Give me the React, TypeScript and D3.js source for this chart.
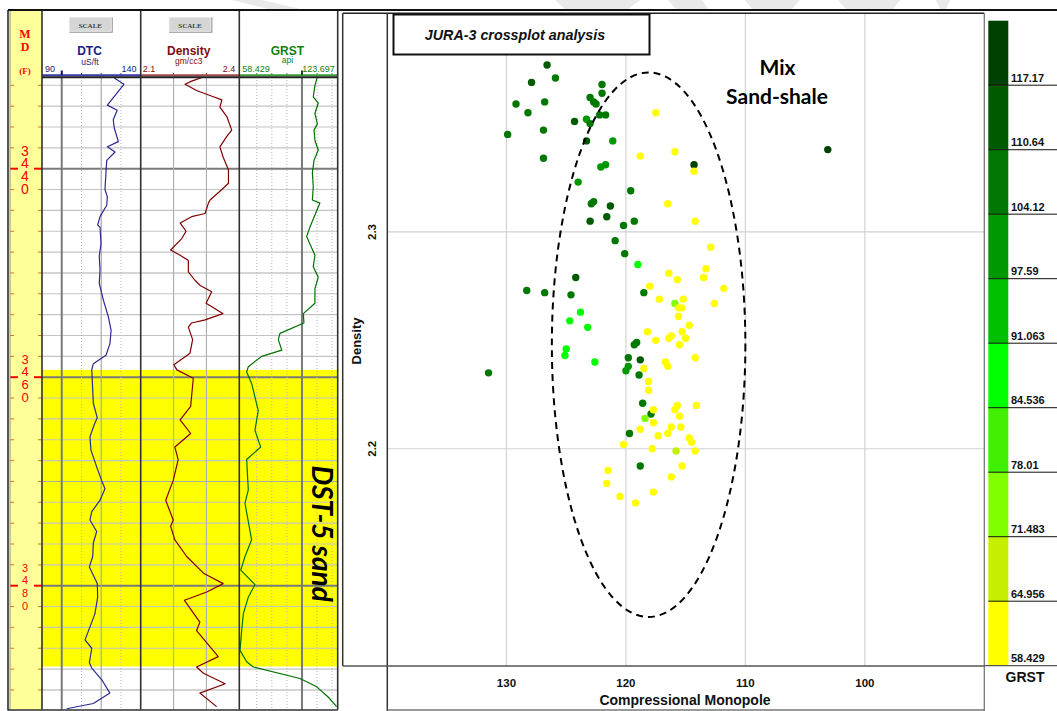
import React, { useEffect } from 'react';
import * as d3 from 'd3';

// well log curves: [depth ft, value]
const dtcLog: [number, number][] = [
  [3431.3, 126.6], [3431.9, 131.5], [3433.9, 123.1], [3434.4, 128.1], [3435.3, 126.1], [3436.1, 126.6],
  [3437.4, 128.7], [3437.9, 123.1], [3438.4, 127.0], [3439.2, 122.8], [3440.4, 122.4], [3442.0, 121.9],
  [3442.7, 123.1], [3443.5, 122.8], [3444.6, 119.4], [3445.4, 118.2], [3445.6, 119.4], [3447.2, 119.9],
  [3448.4, 119.0], [3449.7, 119.4], [3451.0, 119.0], [3452.6, 121.1], [3454.2, 123.6], [3455.5, 125.0],
  [3456.8, 124.4], [3457.9, 122.4], [3458.7, 116.0], [3459.3, 115.2], [3461.2, 115.7], [3462.5, 116.0],
  [3463.9, 118.0], [3464.4, 116.8], [3465.7, 114.3], [3467.0, 114.8], [3468.6, 117.7], [3469.9, 120.2],
  [3470.7, 121.9], [3471.8, 119.4], [3472.9, 115.2], [3473.7, 114.3], [3474.8, 117.7], [3475.9, 116.0],
  [3477.2, 115.7], [3478.2, 114.0], [3479.8, 118.0], [3481.1, 118.2], [3482.7, 116.8], [3485.2, 111.8],
  [3486.0, 115.2], [3487.4, 114.0], [3487.9, 115.2], [3489.0, 120.2], [3490.3, 124.4], [3491.3, 116.0],
  [3491.8, 102.5],
];

const densityLog: [number, number][] = [
  [3431.2, 2.291], [3431.6, 2.255], [3431.9, 2.235], [3432.5, 2.27], [3433.1, 2.321], [3433.4, 2.347],
  [3434.1, 2.341], [3435.0, 2.362], [3436.3, 2.377], [3436.9, 2.362], [3437.9, 2.341], [3438.9, 2.351],
  [3440.1, 2.367], [3441.4, 2.367], [3442.0, 2.347], [3443.0, 2.311], [3443.3, 2.306], [3444.3, 2.296],
  [3444.6, 2.255], [3445.2, 2.22], [3446.0, 2.238], [3446.7, 2.225], [3447.8, 2.191], [3448.3, 2.22],
  [3448.8, 2.245], [3449.9, 2.245], [3450.7, 2.265], [3451.2, 2.281], [3451.8, 2.316], [3452.9, 2.299],
  [3453.9, 2.35], [3454.5, 2.296], [3454.8, 2.255], [3455.2, 2.245], [3456.4, 2.258], [3457.7, 2.25],
  [3458.8, 2.201], [3459.3, 2.21], [3460.1, 2.26], [3462.8, 2.252], [3464.1, 2.22], [3465.4, 2.252],
  [3466.0, 2.23], [3466.7, 2.204], [3467.9, 2.214], [3469.9, 2.199], [3471.8, 2.176], [3473.7, 2.199],
  [3474.3, 2.191], [3475.6, 2.204], [3477.2, 2.24], [3478.8, 2.291], [3479.8, 2.351], [3480.6, 2.301],
  [3481.4, 2.233], [3483.5, 2.28], [3484.3, 2.27], [3486.8, 2.336], [3487.8, 2.27], [3488.4, 2.291],
  [3489.4, 2.357], [3490.3, 2.28], [3491.6, 2.331],
];

const grstLog: [number, number][] = [
  [3431.2, 110.2], [3432.0, 108.6], [3433.1, 107.5], [3433.7, 110.8], [3434.7, 108.6], [3435.7, 110.2],
  [3436.3, 108.0], [3437.3, 108.6], [3438.2, 110.8], [3439.2, 108.0], [3440.4, 106.9], [3441.7, 107.5],
  [3443.0, 106.9], [3443.3, 111.9], [3445.6, 105.3], [3446.5, 103.1], [3448.3, 108.6], [3449.4, 107.5],
  [3450.4, 110.8], [3451.5, 108.6], [3452.9, 108.6], [3453.9, 100.9], [3454.8, 101.3], [3455.8, 85.4],
  [3456.4, 84.3], [3457.4, 86.6], [3458.0, 73.3], [3459.0, 64.4], [3459.5, 63.3], [3460.6, 66.6],
  [3463.2, 71.0], [3465.1, 68.8], [3466.7, 72.6], [3467.9, 63.3], [3470.8, 64.4], [3472.1, 62.2],
  [3475.6, 66.6], [3477.2, 62.2], [3478.5, 59.4], [3479.9, 68.8], [3481.1, 64.4], [3482.7, 61.1],
  [3484.3, 60.0], [3486.2, 58.9], [3487.3, 63.3], [3487.8, 67.7], [3488.9, 98.7], [3489.7, 109.8],
  [3490.7, 117.5], [3491.6, 123.0],
];

const sandTop = 3459.3;
const sandBase = 3487.75;
const depthLabels = [3440, 3460, 3480];
const dtcRange = [90, 140];
const densityRange = [2.1, 2.4];
const grstRange = [58.429, 123.697];

// crossplot samples: [compressional monopole, density, GRST]
const shalePoints: [number, number, number][] = [
  [126.6, 2.377, 113], [127.9, 2.369, 112], [125.9, 2.371, 106], [129.2, 2.359, 106], [126.8, 2.36, 106],
  [128.2, 2.355, 109], [129.9, 2.345, 106], [126.9, 2.347, 106], [126.9, 2.334, 106], [122.0, 2.368, 107],
  [122.0, 2.364, 107], [123.0, 2.362, 106], [122.7, 2.36, 106], [122.5, 2.359, 106], [124.3, 2.351, 113],
  [123.3, 2.352, 101], [123.0, 2.35, 105], [122.2, 2.354, 107], [121.7, 2.354, 107], [123.3, 2.342, 115],
  [121.1, 2.342, 99], [122.1, 2.33, 103], [121.7, 2.331, 103], [124.0, 2.323, 98], [122.9, 2.313, 105],
  [122.7, 2.314, 105], [121.3, 2.312, 112], [121.6, 2.307, 112], [123.0, 2.305, 112], [120.2, 2.303, 110],
  [119.3, 2.305, 106], [119.6, 2.319, 107], [120.9, 2.296, 106], [120.1, 2.29, 108], [119.0, 2.285, 90],
  [118.5, 2.272, 108], [124.2, 2.279, 113], [128.3, 2.273, 106], [126.8, 2.272, 106], [124.6, 2.271, 106],
  [123.8, 2.263, 87], [124.7, 2.259, 87], [123.2, 2.256, 87], [125.0, 2.246, 86], [125.1, 2.243, 86],
  [122.6, 2.24, 87], [119.3, 2.248, 110], [119.1, 2.249, 110], [119.8, 2.242, 107], [118.8, 2.241, 112],
  [119.8, 2.238, 104], [120.0, 2.236, 104], [118.9, 2.234, 108], [131.5, 2.235, 106], [118.6, 2.221, 107],
  [117.9, 2.216, 110], [119.7, 2.207, 107], [118.8, 2.192, 107], [103.1, 2.338, 120], [114.3, 2.331, 120],
];

const sandPoints: [number, number, number][] = [
  [117.5, 2.355, 62], [118.8, 2.335, 61], [115.9, 2.337, 62], [114.3, 2.328, 62], [116.5, 2.313, 61],
  [114.2, 2.305, 62], [112.9, 2.293, 61], [113.3, 2.283, 62], [116.4, 2.281, 62], [115.7, 2.278, 61],
  [113.5, 2.279, 62], [118.0, 2.275, 61], [111.8, 2.274, 62], [117.2, 2.269, 62], [115.2, 2.269, 61],
  [115.9, 2.267, 73], [115.6, 2.265, 62], [115.3, 2.265, 61], [112.6, 2.267, 62], [115.6, 2.261, 62],
  [114.7, 2.257, 61], [118.2, 2.254, 62], [115.3, 2.254, 61], [117.5, 2.25, 62], [116.2, 2.252, 62],
  [116.4, 2.251, 61], [115.0, 2.251, 62], [115.5, 2.248, 62], [114.2, 2.242, 61], [116.7, 2.24, 62],
  [116.5, 2.238, 62], [118.5, 2.237, 61], [118.1, 2.231, 62], [118.1, 2.227, 62], [115.7, 2.22, 61],
  [115.9, 2.218, 62], [115.5, 2.215, 62], [114.1, 2.22, 61], [117.7, 2.218, 62], [118.4, 2.214, 76],
  [117.7, 2.212, 62], [118.8, 2.209, 61], [116.2, 2.21, 62], [116.5, 2.207, 62], [115.4, 2.21, 61],
  [117.3, 2.206, 62], [114.7, 2.205, 62], [114.5, 2.203, 61], [120.2, 2.202, 62], [117.8, 2.2, 62],
  [115.8, 2.199, 68], [114.2, 2.199, 61], [115.3, 2.192, 62], [121.5, 2.19, 62], [121.6, 2.184, 61],
  [116.2, 2.187, 62], [117.7, 2.18, 62], [120.5, 2.178, 61], [119.2, 2.175, 62],
];

const grBreaks = [58.429, 64.956, 71.483, 78.01, 84.536, 91.063, 97.59, 104.12, 110.64, 117.17];
const grColors = ['#ffff00', '#c4f000', '#80ff00', '#40f000', '#00ff00', '#00c000', '#009800', '#007800', '#005a00', '#004000'];
const xTicks = [130, 120, 110, 100];
const yTicks = [2.2, 2.3];
const ellipseCenter = [118.1, 2.248];
const ellipseRadius = [8.1, 0.1256];

const sans = '"Liberation Sans", Arial, sans-serif';

const App = () => {
  useEffect(() => {
    document.body.style.margin = '0';
  }, []);

  // log panel scales
  const depthY = d3.scaleLinear().domain([3440, 3480]).range([168.7, 585.7]);
  const dtcX = d3.scaleLinear().domain(dtcRange).range([42, 140.7]);
  const denX = d3.scaleLinear().domain(densityRange).range([140.7, 239.3]);
  const grX = d3.scaleLinear().domain(grstRange).range([239.3, 337.7]);
  const bodyTop = 77;
  const bodyBottom = 709.5;

  const curve = (xs: d3.ScaleLinear<number, number>) =>
    d3.line<[number, number]>().x(d => xs(d[1])).y(d => depthY(d[0]));

  // crossplot scales
  const x = d3.scaleLinear().domain([140, 90]).range([387, 984.3]);
  const y = d3.scaleLinear().domain([2.1, 2.4]).range([665.5, 15.2]);
  const color = d3.scaleThreshold<number, string>().domain(grBreaks.slice(1)).range(grColors);
  const barY = d3.scaleLinear().domain([grBreaks[0], 123.697]).range([665.7, 20.7]);

  const minorDepths = d3.range(3432, 3492, 2);
  const tracks = [42, 140.7, 239.3, 337.7];

  const dtcGrid = [
    { v: 100, stroke: '#7a7a7a', w: 2, dash: null },
    { v: 110, stroke: '#b8b8b8', w: 1, dash: '1,2' },
    { v: 120, stroke: '#a8a8a8', w: 1.2, dash: null },
    { v: 130, stroke: '#b8b8b8', w: 1, dash: '1,2' },
  ];
  const denGrid = [2.2, 2.3];
  const grGrid = [
    { v: 70, thick: false }, { v: 80, thick: false }, { v: 90, thick: false },
    { v: 100, thick: true }, { v: 110, thick: false }, { v: 120, thick: false },
  ];

  const digitOffsets = [-18, -5.5, 7.5, 20];
  const digitSizes = [14, 13, 11];

  return (
    <svg width={1057} height={711} style={{ position: 'absolute', left: 0, top: 0, background: '#fff' }}>
      <defs>
        <clipPath id="logBody">
          <rect x={42} y={bodyTop + 1} width={296} height={bodyBottom - bodyTop - 1} />
        </clipPath>
      </defs>

      {/* faint slide watermark at the top */}
      <g fill="#e9e9e9">
        <polygon points="232,0 262,0 300,9 268,9" />
        <polygon points="555,0 640,0 628,9 565,9" />
        <polygon points="668,0 702,0 708,9 676,9" />
        <polygon points="745,0 800,0 792,9 752,9" />
        <polygon points="838,0 900,0 893,9 846,9" />
        <polygon points="936,0 950,0 946,9 940,9" />
      </g>

      {/* ---------- log panel ---------- */}
      <rect x={10} y={10} width={32} height={bodyBottom - 10} fill="#ffff99" />
      <rect x={42} y={depthY(sandTop)} width={296} height={depthY(sandBase) - depthY(sandTop)} fill="#ffff00" />

      {minorDepths.map(d => (
        <line key={'g' + d} x1={42} x2={338} y1={depthY(d)} y2={depthY(d)}
          stroke={d % 20 === 0 ? '#7a7a7a' : d % 10 === 0 ? '#ababab' : '#c4c4c4'}
          strokeWidth={d % 20 === 0 ? 2 : 1.1} />
      ))}
      {dtcGrid.map(g => (
        <line key={'dg' + g.v} x1={dtcX(g.v)} x2={dtcX(g.v)} y1={bodyTop} y2={bodyBottom}
          stroke={g.stroke} strokeWidth={g.w} strokeDasharray={g.dash || undefined} />
      ))}
      {denGrid.map(v => (
        <line key={'ng' + v} x1={denX(v)} x2={denX(v)} y1={bodyTop} y2={bodyBottom} stroke="#b0b0b0" strokeWidth={1.2} />
      ))}
      {grGrid.map(g => (
        <line key={'rg' + g.v} x1={grX(g.v)} x2={grX(g.v)} y1={bodyTop} y2={bodyBottom}
          stroke={g.thick ? '#7a7a7a' : '#b8b8b8'} strokeWidth={g.thick ? 2 : 1}
          strokeDasharray={g.thick ? undefined : '1,2'} />
      ))}

      {/* depth ticks and labels */}
      {minorDepths.map(d => (
        <g key={'t' + d}>
          <line x1={10} x2={d % 20 === 0 ? 18 : 14} y1={depthY(d)} y2={depthY(d)}
            stroke={d % 20 === 0 ? '#ff0000' : '#d2791e'} strokeWidth={d % 20 === 0 ? 2 : 1} />
          <line x1={d % 20 === 0 ? 34 : 38} x2={42} y1={depthY(d)} y2={depthY(d)}
            stroke={d % 20 === 0 ? '#ff0000' : '#d2791e'} strokeWidth={d % 20 === 0 ? 2 : 1} />
        </g>
      ))}
      {depthLabels.map((d, i) => (
        <g key={'dl' + d} fill="#ff0000" fontFamily={sans} fontSize={digitSizes[i]} textAnchor="middle">
          {String(d).split('').map((c, j) => (
            <text key={j} x={25} y={depthY(d) + digitOffsets[j] + digitSizes[i] * 0.36}>{c}</text>
          ))}
        </g>
      ))}
      <g fill="#ff0000" fontFamily='"Liberation Serif", serif' fontWeight="bold" textAnchor="middle">
        <text x={25} y={37.5} fontSize={12}>M</text>
        <text x={25} y={50.5} fontSize={12}>D</text>
        <text x={25} y={73.5} fontSize={9}>(F)</text>
      </g>

      {/* curves */}
      <g clipPath="url(#logBody)" fill="none" strokeWidth={1.2} strokeLinejoin="round">
        <path d={curve(dtcX)(dtcLog) || ''} stroke="#2a2a90" />
        <path d={curve(denX)(densityLog) || ''} stroke="#800000" />
        <path d={curve(grX)(grstLog) || ''} stroke="#007000" />
      </g>

      {/* DST-5 sand label */}
      <text transform={`translate(311.5,${depthY(3475)}) rotate(90)`} textAnchor="middle"
        fontFamily="Lato, sans-serif" fontWeight="bold" fontStyle="italic" fontSize={28} fill="#000">DST-5 sand</text>

      {/* header */}
      {[{ cx: 91 }, { cx: 190.7 }].map((b, i) => (
        <g key={'sb' + i}>
          <rect x={b.cx - 21.7} y={17.3} width={43.4} height={15.4} fill="#8a8a8a" />
          <rect x={b.cx - 21.7} y={17.3} width={42} height={14} fill="#d6d6d6" stroke="#f4f4f4" strokeWidth={0.8} />
          <text x={b.cx - 0.7} y={27.5} textAnchor="middle" fontSize={7} fontFamily='"Liberation Serif", serif'
            fontWeight="bold" fill="#404040">SCALE</text>
        </g>
      ))}
      <g fontFamily={sans} textAnchor="middle">
        <text x={89.5} y={55} fontSize={12} fontWeight="bold" fill="#1c1c80">DTC</text>
        <text x={90} y={64.5} fontSize={8.5} fill="#1c1c80">uS/ft</text>
        <text x={50} y={72} fontSize={9} fill="#1c1c80">{dtcRange[0]}</text>
        <text x={129} y={72} fontSize={9} fill="#1c1c80">{dtcRange[1]}</text>

        <text x={188.7} y={55} fontSize={12} fontWeight="bold" fill="#7a1010">Density</text>
        <text x={188.7} y={63.5} fontSize={8.5} fill="#7a1010">gm/cc3</text>
        <text x={149} y={72} fontSize={9} fill="#7a1010">{densityRange[0]}</text>
        <text x={229} y={72} fontSize={9} fill="#7a1010">{densityRange[1]}</text>

        <text x={287.3} y={55} fontSize={12} fontWeight="bold" fill="#118011">GRST</text>
        <text x={287.5} y={63} fontSize={8.5} fill="#118011">api</text>
        <text x={256} y={72} fontSize={9} fill="#118011">{grstRange[0]}</text>
        <text x={318.5} y={72} fontSize={9} fill="#118011">{grstRange[1]}</text>
      </g>
      <line x1={42} x2={140.7} y1={75.3} y2={75.3} stroke="#3a3aa8" strokeWidth={2} />
      <line x1={140.7} x2={239.3} y1={75.3} y2={75.3} stroke="#a04848" strokeWidth={2} />
      <line x1={239.3} x2={337.7} y1={75.3} y2={75.3} stroke="#3a9a3a" strokeWidth={2} />
      {dtcGrid.map(g => (
        <line key={'dh' + g.v} x1={dtcX(g.v)} x2={dtcX(g.v)} y1={g.v === 100 ? 70.5 : 73} y2={75}
          stroke={g.v === 100 ? '#101060' : '#3a3aa8'} strokeWidth={g.v === 100 ? 2 : 1} />
      ))}
      {denGrid.map(v => (
        <line key={'nh' + v} x1={denX(v)} x2={denX(v)} y1={73} y2={75} stroke="#a04848" />
      ))}
      {grGrid.map(g => (
        <line key={'rh' + g.v} x1={grX(g.v)} x2={grX(g.v)} y1={g.thick ? 70.5 : 73} y2={75}
          stroke={g.thick ? '#105010' : '#3a9a3a'} strokeWidth={g.thick ? 2 : 1} />
      ))}
      <line x1={42} x2={338} y1={77.3} y2={77.3} stroke="#202020" strokeWidth={2} />
      {tracks.map(t => (
        <line key={'tr' + t} x1={t} x2={t} y1={10} y2={bodyBottom} stroke="#303030" strokeWidth={1.6} />
      ))}
      <line x1={10} x2={10} y1={10} y2={bodyBottom} stroke="#909090" strokeWidth={1} />
      <line x1={8} x2={8} y1={10} y2={bodyBottom + 1} stroke="#202020" strokeWidth={1.5} />
      <line x1={8} x2={338} y1={bodyBottom + 0.5} y2={bodyBottom + 0.5} stroke="#303030" strokeWidth={1.5} />
      <line x1={8} x2={1057} y1={10} y2={10} stroke="#111" strokeWidth={2} />

      {/* ---------- crossplot ---------- */}
      {xTicks.map(t => (
        <line key={'xg' + t} x1={x(t)} x2={x(t)} y1={14} y2={666} stroke="#d2d2d2" strokeWidth={1.2} />
      ))}
      {yTicks.map(t => (
        <line key={'yg' + t} x1={387} x2={984.3} y1={y(t)} y2={y(t)} stroke="#d2d2d2" strokeWidth={1.2} />
      ))}

      <g>
        {shalePoints.concat(sandPoints).map((p, i) => (
          <circle key={'p' + i} cx={x(p[0])} cy={y(p[1])} r={3.7} fill={color(p[2])} />
        ))}
      </g>

      <ellipse cx={x(ellipseCenter[0])} cy={y(ellipseCenter[1])}
        rx={Math.abs(x(ellipseCenter[0] - ellipseRadius[0]) - x(ellipseCenter[0]))}
        ry={Math.abs(y(ellipseCenter[1] + ellipseRadius[1]) - y(ellipseCenter[1]))}
        fill="none" stroke="#000" strokeWidth={2} strokeDasharray="7,5" />

      <g fontFamily="Lato, sans-serif" fontWeight="bold" fontSize={21} textAnchor="middle" fill="#000">
        <text x={777.5} y={74.5}>Mix</text>
        <text x={777} y={103.5}>Sand-shale</text>
      </g>

      {/* frame */}
      <line x1={342.7} x2={984.3} y1={13.2} y2={13.2} stroke="#222" strokeWidth={1.5} />
      <line x1={342.7} x2={342.7} y1={13.2} y2={666} stroke="#333" strokeWidth={1.5} />
      <line x1={387.3} x2={387.3} y1={13.2} y2={711} stroke="#333" strokeWidth={1.5} />
      <line x1={342.7} x2={984.3} y1={666} y2={666} stroke="#555" strokeWidth={1.5} />
      <line x1={984.3} x2={984.3} y1={13.2} y2={711} stroke="#777" strokeWidth={1.3} />
      <line x1={387.3} x2={984.3} y1={710} y2={710} stroke="#777" strokeWidth={1.3} />

      {/* axes text */}
      <g fontFamily={sans} fontWeight="bold" fill="#111">
        {xTicks.map(t => (
          <text key={'xt' + t} x={x(t)} y={687} fontSize={11.5} textAnchor="middle">{t}</text>
        ))}
        <text x={685} y={704.5} fontSize={14} textAnchor="middle">Compressional Monopole</text>
        {yTicks.map(t => (
          <text key={'yt' + t} transform={`translate(376,${y(t)}) rotate(-90)`} fontSize={11.5} textAnchor="middle">{t.toFixed(1)}</text>
        ))}
        <text transform="translate(361,341) rotate(-90)" fontSize={13} textAnchor="middle">Density</text>
      </g>

      {/* title */}
      <rect x={393.5} y={14.5} width={256} height={40} fill="#fff" stroke="#111" strokeWidth={2} />
      <text x={515} y={39.5} textAnchor="middle" fontFamily={sans} fontWeight="bold" fontStyle="italic" fontSize={14.3}
        fill="#111">JURA-3 crossplot analysis</text>

      {/* ---------- colour bar ---------- */}
      {grBreaks.map((b, i) => {
        const top = i === grBreaks.length - 1 ? 123.697 : grBreaks[i + 1];
        return (
          <rect key={'cb' + i} x={988.3} y={barY(top)} width={20} height={barY(b) - barY(top)} fill={grColors[i]} />
        );
      })}
      {grBreaks.map((b, i) => (
        <g key={'cl' + i}>
          {i > 0 && <line x1={988.3} x2={1057} y1={barY(b)} y2={barY(b)} stroke="#111" strokeWidth={1} />}
          {i === 0 && <line x1={984.3} x2={1057} y1={barY(b)} y2={barY(b)} stroke="#555" strokeWidth={1.3} />}
          <text x={1011} y={barY(b) - 3.5} fontFamily={sans} fontWeight="bold" fontSize={11} fill="#111">{b}</text>
        </g>
      ))}
      <text x={1025} y={682} textAnchor="middle" fontFamily={sans} fontWeight="bold" fontSize={14} fill="#111">GRST</text>
    </svg>
  );
};

export default App;
